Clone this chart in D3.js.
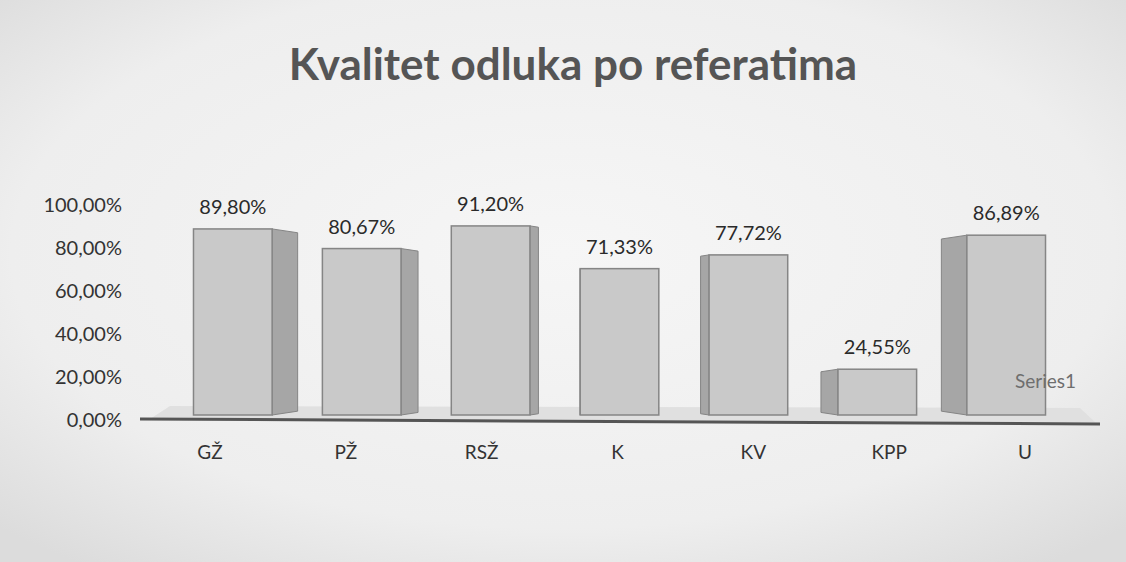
<!DOCTYPE html>
<html>
<head>
<meta charset="utf-8">
<script src="https://cdn.jsdelivr.net/npm/d3@7"></script>
<style>
  html, body { margin: 0; padding: 0; background: #e9e9e9; }
  svg { display: block; font-family: Lato, "Open Sans", sans-serif; }
</style>
</head>
<body>
<div class="container"></div>
<script>
// data
const categories = ["GŽ", "PŽ", "RSŽ", "K", "KV", "KPP", "U"];
const values = [0.8980, 0.8067, 0.9120, 0.7133, 0.7772, 0.2455, 0.8689];
const valueLabels = ["89,80%", "80,67%", "91,20%", "71,33%", "77,72%", "24,55%", "86,89%"];
const yTicks = [0, 0.2, 0.4, 0.6, 0.8, 1.0];
const seriesName = "Series1";
const chartTitle = "Kvalitet odluka po referatima";

const w = 1126;
const h = 562;

const svg = d3.select(".container")
  .append("svg")
  .attr("width", w)
  .attr("height", h);

// scanned paper look
const defs = svg.append("defs");
const grad = defs.append("radialGradient").attr("id", "paper")
  .attr("cx", "50%").attr("cy", "45%").attr("r", "70%");
grad.append("stop").attr("offset", "0%").attr("stop-color", "#f6f6f6");
grad.append("stop").attr("offset", "70%").attr("stop-color", "#eeeeee");
grad.append("stop").attr("offset", "100%").attr("stop-color", "#dcdcdc");
svg.append("rect").attr("width", w).attr("height", h).attr("fill", "url(#paper)");

// scales
const x = d3.scaleBand()
  .domain(categories)
  .range([169, 1070])
  .paddingInner(0.39)
  .paddingOuter(0.19);

const xLabel = d3.scalePoint()
  .domain(categories)
  .range([210, 1025]);

const y = d3.scaleLinear()
  .domain([0, 1])
  .range([420, 205]);

// title
svg.append("text")
  .attr("x", 573)
  .attr("y", 80)
  .attr("text-anchor", "middle")
  .style("font-size", "44px")
  .style("font-weight", "bold")
  .style("fill", "#555")
  .text(chartTitle);

// floor
const floorY = y(0) - 2;
svg.append("path")
  .attr("d", `M150,${floorY + 1} L1095,${floorY + 4} L1080,${floorY - 10} L170,${floorY - 12} Z`)
  .attr("fill", "#e0e0e0");

// y axis
const yAxis = d3.axisLeft(y)
  .tickValues(yTicks)
  .tickSize(0)
  .tickPadding(0)
  .tickFormat(d => d3.format(".2f")(d * 100).replace(".", ",") + "%");

const gy = svg.append("g")
  .attr("transform", "translate(122,0)")
  .call(yAxis);
gy.select(".domain").remove();
gy.selectAll("text")
  .style("font-size", "20px")
  .style("font-family", "Lato, 'Open Sans', sans-serif")
  .style("fill", "#333");

// bars with a 3D side face
const vanish = x("K") + x.bandwidth() / 2;
const bars = svg.append("g").selectAll("g")
  .data(categories)
  .enter()
  .append("g");

bars.append("path")
  .attr("d", (d, i) => {
    const x0 = x(d), x1 = x0 + x.bandwidth();
    const cx = x0 + x.bandwidth() / 2;
    const depth = (cx - vanish) * 0.066;
    const yt = y(values[i]) + 2, yb = y(0) - 5;
    const ex = depth < 0 ? x1 : x0;
    const bx = ex - depth;
    const s = Math.abs(depth) * 0.15;
    return `M${ex},${yt} L${bx},${yt + s} L${bx},${yb - s} L${ex},${yb} Z`;
  })
  .attr("fill", "#a6a6a6")
  .attr("stroke", "#858585")
  .attr("stroke-width", 1);

bars.append("rect")
  .attr("x", d => x(d))
  .attr("y", (d, i) => y(values[i]) + 2)
  .attr("width", x.bandwidth())
  .attr("height", (d, i) => y(0) - 7 - y(values[i]))
  .attr("fill", "#c9c9c9")
  .attr("stroke", "#858585")
  .attr("stroke-width", 1.5);

// value labels
bars.append("text")
  .attr("x", d => x(d) + x.bandwidth() / 2)
  .attr("y", (d, i) => y(values[i]) - 13)
  .attr("text-anchor", "middle")
  .style("font-size", "20px")
  .style("fill", "#2a2a2a")
  .text((d, i) => valueLabels[i]);

// axis line
svg.append("line")
  .attr("x1", 140).attr("y1", y(0) - 1)
  .attr("x2", 1100).attr("y2", y(0) + 4)
  .attr("stroke", "#555")
  .attr("stroke-width", 3);

// category labels
svg.append("g").selectAll("text")
  .data(categories)
  .enter()
  .append("text")
  .attr("x", d => xLabel(d))
  .attr("y", 459)
  .attr("text-anchor", "middle")
  .style("font-size", "19px")
  .style("fill", "#333")
  .text(d => d);

// series label
svg.append("text")
  .attr("x", 1015)
  .attr("y", 388)
  .attr("text-anchor", "start")
  .style("font-size", "19px")
  .style("fill", "#6e6e6e")
  .text(seriesName);
</script>
</body>
</html>
